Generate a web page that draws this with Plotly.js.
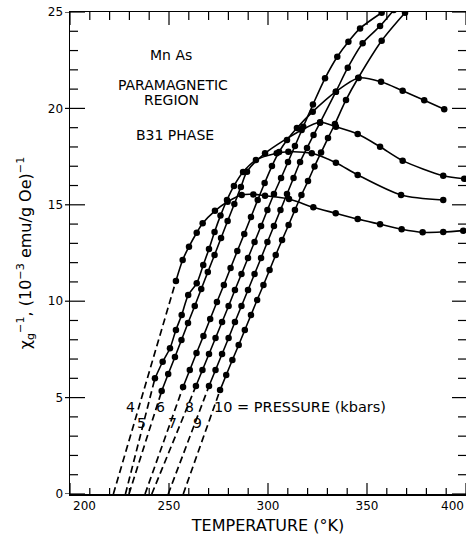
<!DOCTYPE html>
<html>
<head>
<meta charset="utf-8">
<script src="https://cdn.plot.ly/plotly-3.0.1.min.js"></script>
<style>html,body{margin:0;padding:0;background:#fff}#chart{width:466px;height:535px}</style>
</head>
<body>
<div id="chart"></div>
<script>
// Pressures (kbar) and dashed extrapolation intercepts (T at chi^-1 = 0)
const pressures = [4, 5, 6, 7, 8, 9, 10];
const intercepts = [221.9, 228.0, 229.8, 237.9, 241.3, 249.6, 257.2];

// Measured points: temperature (K) and chi_g^-1 (10^-3 emu/g Oe)^-1
const temp4 = [253.5, 256.9, 260.1, 264.0, 267.0, 273.2, 279.6, 286.7, 292.6, 298.5, 310.6, 322.9, 334.2, 345.3, 356.6, 367.5, 378.1, 388.5, 398.6];
const chi4  = [11.05, 12.14, 12.83, 13.55, 14.04, 14.69, 15.16, 15.51, 15.54, 15.47, 15.30, 14.87, 14.56, 14.26, 13.99, 13.73, 13.57, 13.59, 13.66];

const temp5 = [242.9, 246.8, 250.5, 253.5, 256.4, 259.7, 264.0, 267.3, 270.2, 273.0, 276.0, 279.3, 282.8, 287.4, 293.9, 304.4, 310.3, 322.1, 334.3, 345.3, 367.2, 388.5];
const chi5  = [6.00, 6.86, 7.56, 8.51, 9.28, 10.32, 10.93, 11.88, 12.71, 13.59, 14.44, 15.25, 15.98, 16.70, 17.32, 17.67, 17.75, 17.67, 17.18, 16.55, 15.51, 15.25];

const temp6 = [246.3, 249.6, 253.0, 256.3, 259.6, 263.0, 266.3, 269.6, 273.0, 276.3, 279.6, 283.0, 286.3, 289.4, 298.5, 317.0, 326.3, 334.3, 345.3, 356.6, 368.0, 388.5, 399.1];
const chi6  = [5.34, 6.22, 7.11, 7.99, 8.87, 9.75, 10.63, 11.51, 12.40, 13.28, 14.16, 15.04, 15.92, 16.72, 17.67, 18.88, 19.28, 19.05, 18.67, 18.01, 17.29, 16.51, 16.35];

const temp7 = [257.1, 260.5, 263.9, 267.4, 270.8, 274.2, 277.7, 281.1, 284.5, 288.0, 291.4, 294.8, 298.3, 302.0, 305.6, 309.6, 314.6, 322.6, 334.3, 345.7, 357.1, 368.0, 378.9, 389.0];
const chi7  = [5.55, 6.43, 7.31, 8.20, 9.08, 9.96, 10.84, 11.72, 12.60, 13.49, 14.37, 15.25, 16.13, 17.01, 17.74, 18.36, 18.98, 19.83, 20.87, 21.58, 21.38, 20.91, 20.42, 19.96];

const temp8 = [263.6, 266.9, 270.2, 273.5, 276.8, 280.1, 283.3, 286.6, 289.9, 293.2, 296.5, 299.7, 303.0, 306.6, 310.1, 313.6, 317.8, 322.7, 328.8, 335.0, 340.6, 346.5, 357.4];
const chi8  = [5.60, 6.43, 7.26, 8.09, 8.92, 9.75, 10.58, 11.41, 12.24, 13.07, 13.90, 14.73, 15.56, 16.39, 17.22, 18.05, 19.05, 20.20, 21.56, 22.68, 23.46, 24.15, 24.96];

const temp9 = [270.2, 273.5, 276.8, 280.1, 283.3, 286.6, 289.9, 293.2, 296.5, 299.7, 303.0, 306.3, 309.6, 312.9, 316.2, 319.7, 323.0, 326.3, 334.3, 340.3, 347.8, 356.6, 363.5];
const chi9  = [5.60, 6.43, 7.26, 8.09, 8.92, 9.75, 10.58, 11.41, 12.24, 13.07, 13.90, 14.73, 15.56, 16.39, 17.22, 17.95, 18.62, 19.26, 20.87, 22.11, 23.38, 24.27, 25.1];

const temp10 = [275.8, 278.9, 282.0, 285.2, 288.3, 291.4, 294.5, 297.7, 300.8, 303.9, 307.1, 310.4, 313.6, 316.9, 320.2, 323.5, 326.8, 330.3, 333.8, 339.4, 345.6, 357.4, 369.2];
const chi10  = [5.39, 6.17, 6.95, 7.73, 8.51, 9.28, 10.06, 10.84, 11.62, 12.40, 13.17, 13.95, 14.73, 15.51, 16.23, 16.99, 17.71, 18.46, 19.19, 20.44, 21.59, 23.51, 24.96];

// Axis ranges, ticks and labels
const xRange = [200, 400];
const yRange = [0, 25];
const xMajorTicks = [200, 250, 300, 350, 400];
const xMinorTicks = [200, 210, 220, 230, 240, 250, 260, 270, 280, 290, 300, 310, 320, 330, 340, 350, 360, 370, 380, 390, 400];
const xInnerLabels = [250, 300, 350];
const yMajorTicks = [0, 5, 10, 15, 20, 25];
const yMinorTicks = [0, 1, 2, 3, 4, 5, 6, 7, 8, 9, 10, 11, 12, 13, 14, 15, 16, 17, 18, 19, 20, 21, 22, 23, 24, 25];
const yTickText = ['0', '5', '10', '15', '20', '25'];

const temps = [temp4, temp5, temp6, temp7, temp8, temp9, temp10];
const chis = [chi4, chi5, chi6, chi7, chi8, chi9, chi10];

const W = 466, H = 535, M = {l: 70, r: 0, t: 12, b: 41};

const traces = [];
pressures.forEach((p, i) => {
  traces.push({
    x: [intercepts[i], temps[i][0]], y: [0, chis[i][0]],
    mode: 'lines', type: 'scatter', hoverinfo: 'skip',
    line: {color: '#000', width: 1.7, dash: '7px,4px'}
  });
  traces.push({
    x: temps[i], y: chis[i], name: p + ' kbar',
    mode: 'lines+markers', type: 'scatter',
    line: {color: '#000', width: 1.6, shape: 'spline', smoothing: 0.8},
    marker: {color: '#000', size: 6.5}
  });
});

// Inward tick marks (all four sides), lengths given in pixels and converted via the axis scale
const xPerPx = (xRange[1] - xRange[0]) / (W - M.l - M.r);
const yPerPx = (yRange[1] - yRange[0]) / (H - M.t - M.b);
const tx = [], ty = [];
xMinorTicks.forEach(v => {
  const major = xMajorTicks.includes(v);
  tx.push(v, v, null); ty.push(yRange[0], yRange[0] + (major ? 11 : 6) * yPerPx, null);
  tx.push(v, v, null); ty.push(yRange[1], yRange[1] - (major ? 13 : 8) * yPerPx, null);
});
yMinorTicks.forEach(v => {
  const major = yMajorTicks.includes(v);
  ty.push(v, v, null); tx.push(xRange[0], xRange[0] + (major ? 15 : 8) * xPerPx, null);
  ty.push(v, v, null); tx.push(xRange[1], xRange[1] - (major ? 14 : 8) * xPerPx, null);
});
traces.push({x: tx, y: ty, mode: 'lines', type: 'scatter', hoverinfo: 'skip', connectgaps: false,
  line: {color: '#000', width: 1.2}});

const F = 'DejaVu Sans, Liberation Sans, sans-serif';
const ann = (text, x, y, size, xanchor) => ({
  text, x, y, xref: 'x', yref: 'y', showarrow: false,
  xanchor: xanchor || 'center', yanchor: 'middle',
  font: {family: F, size: size, color: '#000'}
});

// Short outside stubs of the major ticks on the left axis
const shapes = yMajorTicks.map(v => ({
  type: 'line', yref: 'y', xref: 'paper', y0: v, y1: v, xsizemode: 'pixel', xanchor: 0,
  x0: -5, x1: 0, line: {color: '#000', width: 1.2}, layer: 'above'
}));

const edgeLabel = (v, xanchor, xshift) => ({
  text: String(v), x: v, y: 0, xref: 'x', yref: 'paper', showarrow: false,
  xanchor: xanchor, yanchor: 'top', xshift: xshift, yshift: -3,
  font: {family: F, size: 12, color: '#000'}
});

const layout = {
  width: W, height: H,
  margin: M,
  showlegend: false,
  paper_bgcolor: '#fff', plot_bgcolor: '#fff',
  font: {family: F, color: '#000', size: 12},
  xaxis: {
    range: xRange, tickmode: 'array', tickvals: xInnerLabels,
    ticks: '', showline: true, linewidth: 1.5, linecolor: '#000', mirror: true,
    showgrid: false, zeroline: false,
    tickfont: {size: 12, family: F},
    title: {text: 'TEMPERATURE (°K)', font: {size: 16, family: F}, standoff: 9}
  },
  yaxis: {
    range: yRange, tickmode: 'array', tickvals: yMajorTicks, ticktext: yTickText,
    ticks: '', ticklabelstandoff: 3, showline: true, linewidth: 1.5, linecolor: '#000', mirror: true,
    showgrid: false, zeroline: false,
    tickfont: {size: 12, family: F},
    title: {text: 'χ<sub>g</sub><sup>−1</sup>, (10<sup>−3</sup> emu/g Oe)<sup>−1</sup>', font: {size: 16, family: F}, standoff: 12}
  },
  shapes: shapes,
  annotations: [
    edgeLabel(200, 'left', 1),
    edgeLabel(400, 'right', 0),
    ann('Mn As', 250.8, 22.75, 14),
    ann('PARAMAGNETIC', 252.0, 21.2, 14),
    ann('REGION', 251.4, 20.42, 14),
    ann('B31 PHASE', 252.9, 18.62, 14),
    ann('4', 230.7, 4.53, 14),
    ann('5', 236.3, 3.67, 14),
    ann('6', 245.5, 4.53, 14),
    ann('7', 251.8, 3.67, 14),
    ann('8', 260.1, 4.53, 14),
    ann('9', 264.4, 3.67, 14),
    ann('10 = PRESSURE (kbars)', 271.7, 4.53, 14.5, 'left')
  ]
};

Plotly.newPlot('chart', traces, layout, {staticPlot: true, displayModeBar: false});
</script>
</body>
</html>
